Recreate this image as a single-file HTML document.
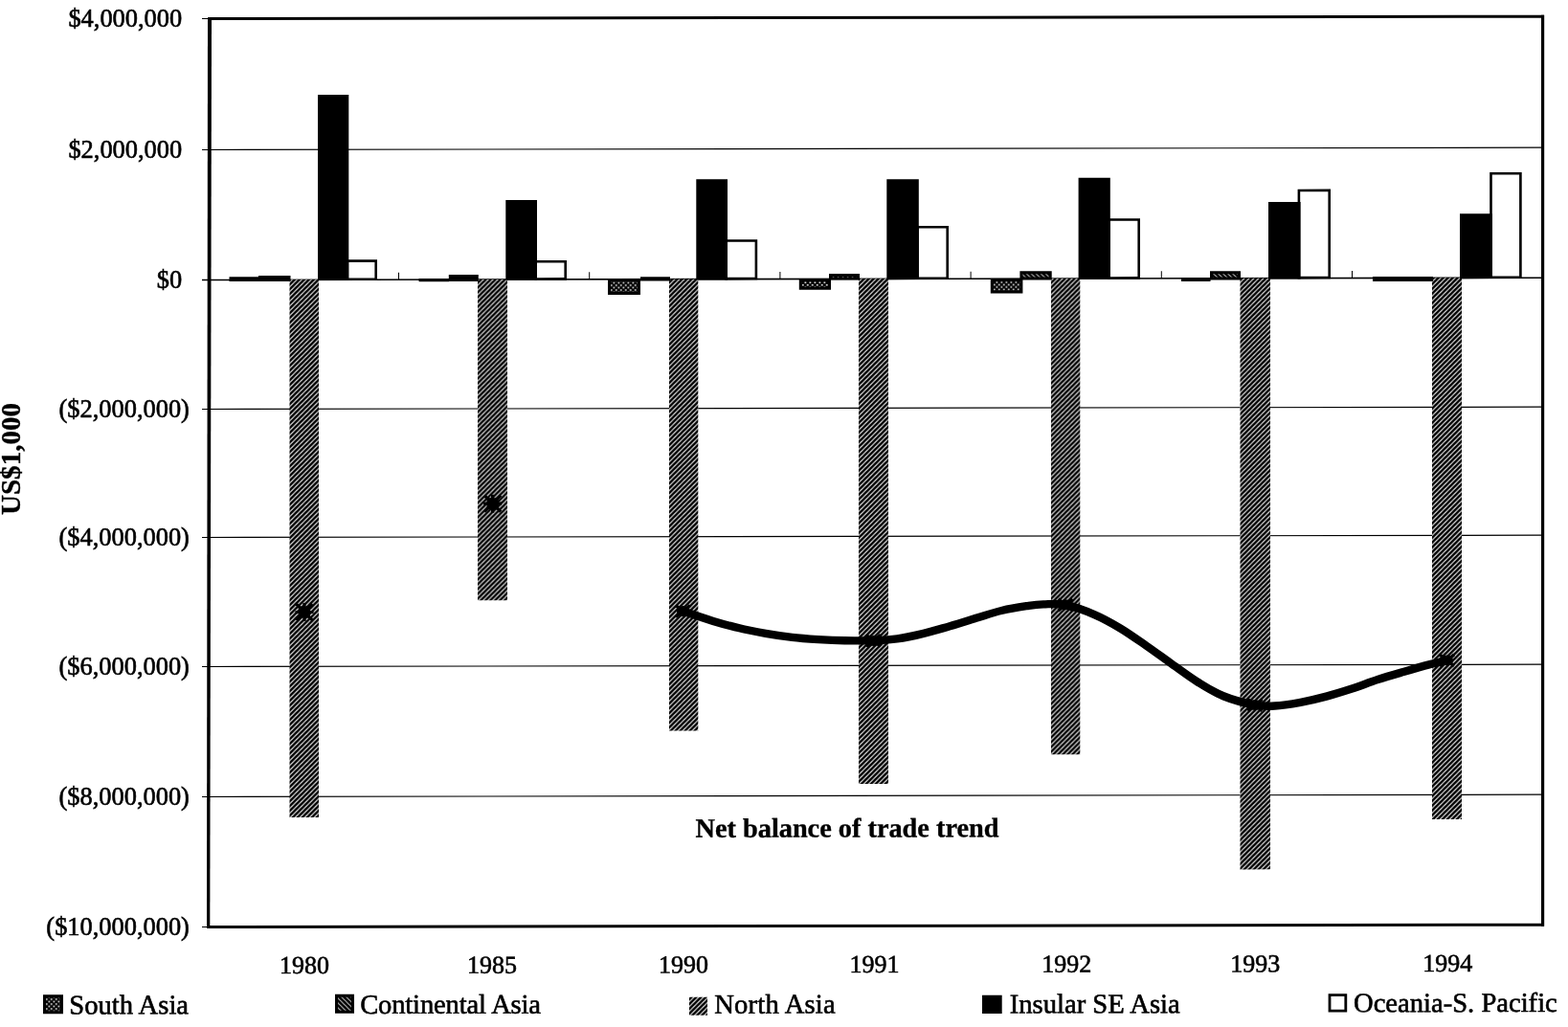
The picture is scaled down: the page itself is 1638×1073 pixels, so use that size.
<!DOCTYPE html>
<html lang="en"><head><meta charset="utf-8"><title>Net balance of trade trend</title>
<style>
html,body{margin:0;padding:0;background:#fff;}
body{width:1638px;height:1073px;overflow:hidden;font-family:"Liberation Serif","Times New Roman",serif;}
svg{display:block;}
text{font-family:"Liberation Serif","Times New Roman",serif;fill:#000;stroke:#000;stroke-width:0.6px;}
.yl{font-size:26.4px;text-anchor:end;}
.xl{font-size:26px;text-anchor:middle;}
.lg{font-size:28.6px;}
.b{font-weight:bold;font-size:28.3px;stroke-width:0.35px;}
</style></head><body>
<svg width="1638" height="1073" viewBox="0 0 1638 1073">
<defs>
<pattern id="north" width="5" height="5" patternUnits="userSpaceOnUse">
<rect width="5" height="5" fill="#fff"/>
<path d="M-1,1 L1,-1 M-1,6 L6,-1 M4,6 L6,4" stroke="#000" stroke-width="2.55" stroke-linecap="square"/>
</pattern>
<pattern id="south" width="5" height="5" patternUnits="userSpaceOnUse">
<rect width="5" height="5" fill="#000"/>
<rect x="0.5" y="0.5" width="1.6" height="1.6" fill="#fff"/>
<rect x="3" y="3" width="1.6" height="1.6" fill="#fff"/>
</pattern>
<pattern id="cont" width="5" height="5" patternUnits="userSpaceOnUse">
<rect width="5" height="5" fill="#000"/>
<path d="M-1,-1 L6,6 M-1,4 L1,6 M4,-1 L6,1" stroke="#fff" stroke-width="0.85"/>
</pattern>
</defs>
<rect width="1638" height="1073" fill="#fff"/>

<g transform="matrix(1,-0.00165,0,1,0,0.3597)">
<rect x="211" y="155.9" width="1400" height="1.2" fill="#000"/>
<rect x="211" y="426.9" width="1400" height="1.2" fill="#000"/>
<rect x="211" y="560.9" width="1400" height="1.2" fill="#000"/>
<rect x="211" y="695.9" width="1400" height="1.2" fill="#000"/>
<rect x="211" y="831.9" width="1400" height="1.2" fill="#000"/>
<rect x="211" y="291.7" width="1400" height="1.6" fill="#000"/>
<rect x="211" y="19" width="8" height="1" fill="#000"/>
<rect x="211" y="968" width="8" height="1" fill="#000"/>
<rect x="416" y="285" width="1" height="7.5" fill="#000"/>
<rect x="615.2" y="285" width="1" height="7.5" fill="#000"/>
<rect x="814.4" y="285" width="1" height="7.5" fill="#000"/>
<rect x="1013.6" y="285" width="1" height="7.5" fill="#000"/>
<rect x="1212.8" y="285" width="1" height="7.5" fill="#000"/>
<rect x="1412" y="285" width="1" height="7.5" fill="#000"/>
<rect x="302.5" y="292.5" width="30.5" height="561.665" fill="url(#north)"/>
<rect x="499" y="292.5" width="31" height="335.189" fill="url(#north)"/>
<rect x="699" y="292.5" width="30.3" height="471.819" fill="url(#north)"/>
<rect x="897" y="292.5" width="31" height="527.646" fill="url(#north)"/>
<rect x="1098" y="292.5" width="30.3" height="497.177" fill="url(#north)"/>
<rect x="1295.5" y="292.5" width="31.5" height="617.704" fill="url(#north)"/>
<rect x="1496" y="292.5" width="31" height="565.634" fill="url(#north)"/>
<rect x="362.9" y="272.864" width="29.8" height="19.1363" fill="#fff" stroke="#000" stroke-width="2.6"/>
<rect x="559.7" y="273.889" width="31" height="18.1106" fill="#fff" stroke="#000" stroke-width="2.6"/>
<rect x="758.7" y="252.418" width="31.2" height="39.5821" fill="#fff" stroke="#000" stroke-width="2.6"/>
<rect x="958.5" y="238.548" width="31.2" height="53.4524" fill="#fff" stroke="#000" stroke-width="2.6"/>
<rect x="1158.5" y="231.078" width="31.2" height="60.9224" fill="#fff" stroke="#000" stroke-width="2.6"/>
<rect x="1356.9" y="200.805" width="31.8" height="91.1946" fill="#fff" stroke="#000" stroke-width="2.6"/>
<rect x="1557.5" y="183.536" width="30.9" height="108.464" fill="#fff" stroke="#000" stroke-width="2.6"/>
<rect x="332" y="99.2147" width="32.3" height="194.085" fill="#000"/>
<rect x="528.3" y="209.539" width="32.7" height="83.761" fill="#000"/>
<rect x="727.3" y="188.067" width="32.7" height="105.233" fill="#000"/>
<rect x="926.3" y="188.396" width="33.5" height="104.904" fill="#000"/>
<rect x="1126.6" y="187.227" width="33.2" height="106.073" fill="#000"/>
<rect x="1325" y="212.854" width="33.6" height="80.4457" fill="#000"/>
<rect x="1525" y="225.485" width="34" height="67.8154" fill="#000"/>
<rect x="239.5" y="289.261" width="31" height="4.8" fill="#000"/>
<rect x="270" y="288.113" width="33.5" height="6" fill="#000"/>
<rect x="437.5" y="291.388" width="31.5" height="3.2" fill="#000"/>
<rect x="468.8" y="287.439" width="31" height="7" fill="#000"/>
<rect x="669" y="290.07" width="31" height="4.2" fill="#000"/>
<rect x="1234" y="291.702" width="30.5" height="4" fill="#000"/>
<rect x="1434" y="291.058" width="63" height="5" fill="#000"/>
<rect x="636.5" y="293.216" width="31" height="14" fill="url(#south)" stroke="#000" stroke-width="3"/>
<rect x="836.3" y="293.545" width="30.2" height="8.7" fill="url(#south)" stroke="#000" stroke-width="3"/>
<rect x="1036.3" y="293.875" width="30.6" height="12.5" fill="url(#south)" stroke="#000" stroke-width="3"/>
<rect x="867.5" y="288.596" width="29" height="3.5" fill="url(#cont)" stroke="#000" stroke-width="3"/>
<rect x="1066.9" y="286.226" width="30.3" height="6.2" fill="url(#cont)" stroke="#000" stroke-width="3"/>
<rect x="1265.5" y="286.552" width="29" height="6.2" fill="url(#cont)" stroke="#000" stroke-width="3"/>
<path d="M713.4,639.3 C718.7,641.1 735.2,646.8 745.0,649.8 C754.8,652.8 763.2,655.0 772.4,657.2 C781.5,659.4 790.7,661.1 799.9,662.8 C809.1,664.4 818.2,665.8 827.4,666.9 C836.5,668.0 845.6,668.6 854.8,669.2 C863.9,669.7 872.7,670.1 882.3,670.3 C891.9,670.5 903.3,670.7 912.5,670.4 C921.7,670.2 928.6,669.8 937.3,668.6 C946.0,667.4 955.6,665.3 964.7,663.1 C973.9,660.9 983.0,658.1 992.2,655.5 C1001.4,652.8 1010.6,649.9 1019.7,647.1 C1028.8,644.4 1037.9,641.2 1047.1,639.1 C1056.2,636.9 1067.4,635.3 1074.6,634.2 C1081.8,633.2 1083.6,633.0 1090.0,632.8 C1096.4,632.7 1103.8,631.5 1112.8,633.4 C1121.8,635.2 1134.1,639.7 1143.7,643.8 C1153.3,647.9 1161.6,652.7 1170.6,658.1 C1179.5,663.5 1188.5,670.0 1197.4,676.2 C1206.4,682.4 1215.3,689.1 1224.3,695.5 C1233.3,701.8 1242.2,708.7 1251.2,714.3 C1260.2,719.9 1268.2,725.1 1278.0,729.0 C1287.8,733.0 1301.3,736.5 1310.3,738.2 C1319.2,739.9 1323.7,739.8 1331.7,739.3 C1339.8,738.9 1349.6,737.3 1358.6,735.7 C1367.6,734.0 1376.5,731.9 1385.5,729.5 C1394.5,727.2 1403.3,724.4 1412.3,721.5 C1421.2,718.6 1430.2,715.0 1439.2,712.1 C1448.2,709.2 1457.0,706.7 1466.0,704.1 C1475.0,701.5 1485.1,698.6 1492.9,696.5 C1500.7,694.4 1509.7,692.5 1513.0,691.7" fill="none" stroke="#000" stroke-width="8.4" stroke-linecap="round" stroke-linejoin="round"/>
<g transform="translate(318.0,639.7)"><rect x="-6" y="-6" width="12" height="12" fill="#000"/><path d="M-8.5,-8.5 L8.5,8.5 M-8.5,8.5 L8.5,-8.5 M0,-9.5 L0,9.5 M-9.5,0 L9.5,0" stroke="#000" stroke-width="3.2"/></g>
<g transform="translate(514.6,526.7)"><rect x="-6" y="-6" width="12" height="12" fill="#000"/><path d="M-8.5,-8.5 L8.5,8.5 M-8.5,8.5 L8.5,-8.5 M0,-9.5 L0,9.5 M-9.5,0 L9.5,0" stroke="#000" stroke-width="3.2"/></g>
<g transform="translate(713.4,639.3)"><ellipse rx="6.5" ry="5.5" fill="#000"/><path d="M-7.5,-6 L7.5,6 M-7.5,6 L7.5,-6" stroke="#000" stroke-width="3.4"/></g>
<g transform="translate(912.5,670.6)"><ellipse rx="6.5" ry="5.5" fill="#000"/><path d="M-7.5,-6 L7.5,6 M-7.5,6 L7.5,-6" stroke="#000" stroke-width="3.4"/></g>
<g transform="translate(1113.0,633.3)"><ellipse rx="6.5" ry="5.5" fill="#000"/><path d="M-7.5,-6 L7.5,6 M-7.5,6 L7.5,-6" stroke="#000" stroke-width="3.4"/></g>
<g transform="translate(1311.0,738.4)"><ellipse rx="6.5" ry="5.5" fill="#000"/><path d="M-7.5,-6 L7.5,6 M-7.5,6 L7.5,-6" stroke="#000" stroke-width="3.4"/></g>
<g transform="translate(1511.5,692.1)"><ellipse rx="6.5" ry="5.5" fill="#000"/><path d="M-7.5,-6 L7.5,6 M-7.5,6 L7.5,-6" stroke="#000" stroke-width="3.4"/></g>
<polygon points="217,18 221,18 219.3,970 216,970" fill="#000"/>
<rect x="217" y="18" width="1396" height="3" fill="#000"/>
<rect x="216" y="967" width="1397" height="3" fill="#000"/>
<rect x="1610" y="18" width="3.2" height="952" fill="#000"/>
<text class="xl" x="318.1" y="1017.2">1980</text>
<text class="xl" x="514" y="1017.2">1985</text>
<text class="xl" x="714" y="1017.2">1990</text>
<text class="xl" x="913.6" y="1017.2">1991</text>
<text class="xl" x="1114.2" y="1017.2">1992</text>
<text class="xl" x="1311.2" y="1017.2">1993</text>
<text class="xl" x="1512.2" y="1017.2">1994</text>
<rect x="46.5" y="1040.5" width="18" height="17" fill="url(#south)" stroke="#000" stroke-width="3"/>
<text class="lg" x="72.3" y="1059.2">South Asia</text>
<rect x="351.5" y="1040.5" width="17" height="17" fill="url(#cont)" stroke="#000" stroke-width="3"/>
<text class="lg" x="376.2" y="1059.2" letter-spacing="-0.17">Continental Asia</text>
<rect x="720" y="1042.6" width="19" height="19" fill="url(#north)"/>
<text class="lg" x="746.2" y="1059.6" letter-spacing="0.2">North Asia</text>
<rect x="1026" y="1041" width="20.7" height="19.4" fill="#000"/>
<text class="lg" x="1054.8" y="1059.8">Insular SE Asia</text>
<rect x="1389" y="1041.5" width="16.8" height="16.6" fill="#fff" stroke="#000" stroke-width="2.8"/>
<text class="lg" x="1414" y="1059.3">Oceania-S. Pacific</text>
<text class="b" x="726.5" y="875.6">Net balance of trade trend</text>
</g>
<text class="yl" x="190.2" y="27.8">$4,000,000</text>
<text class="yl" x="190.2" y="164.8">$2,000,000</text>
<text class="yl" x="190.2" y="300.8">$0</text>
<text class="yl" x="197.9" y="435.8">($2,000,000)</text>
<text class="yl" x="197.9" y="569.8">($4,000,000)</text>
<text class="yl" x="197.9" y="704.8">($6,000,000)</text>
<text class="yl" x="197.9" y="840.8">($8,000,000)</text>
<text class="yl" x="197.9" y="976.8">($10,000,000)</text>
<text class="b" style="font-size:29.1px" text-anchor="middle" transform="translate(21.4,479.5) rotate(-90)">US$1,000</text>
</svg></body></html>
